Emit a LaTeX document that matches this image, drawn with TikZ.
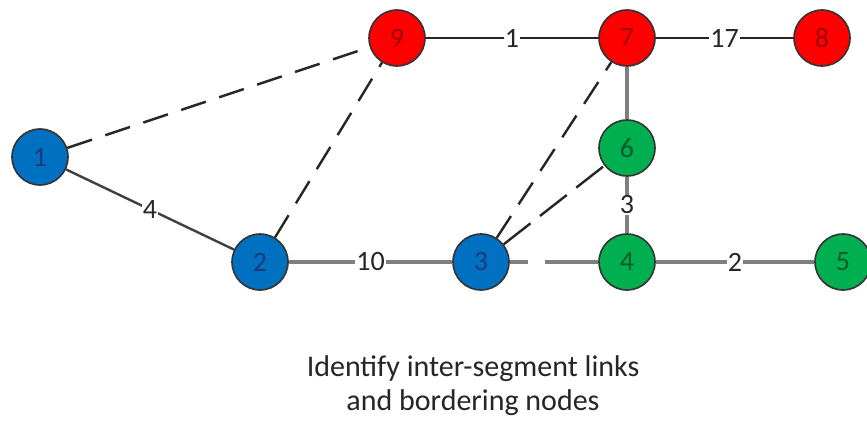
\documentclass[tikz,border=0pt]{standalone}
\usepackage{fontspec}
\setmainfont{Carlito}
\usetikzlibrary{backgrounds}
\definecolor{nblue}{HTML}{0070C0}
\definecolor{nred}{HTML}{FF0000}
\definecolor{ngreen}{HTML}{00B050}
\definecolor{tblue}{HTML}{1F3A7A}
\definecolor{tred}{HTML}{A00000}
\definecolor{tgreen}{HTML}{0B5A2A}
\definecolor{egrey}{HTML}{7F7F7F}
\begin{document}
\begin{tikzpicture}[x=1pt,y=-1pt,
  vtx/.style={circle,draw=black!80,line width=1.6pt,minimum size=56pt,inner sep=0pt,font=\fontsize{28}{28}\selectfont},
  bluev/.style={vtx,fill=nblue,text=tblue},
  redv/.style={vtx,fill=nred,text=tred},
  greenv/.style={vtx,fill=ngreen,text=tgreen},
  blk/.style={draw=black!85,line width=2.4pt},
  gry/.style={draw=egrey,line width=3.2pt},
  dsh/.style={draw=black!85,line width=2.4pt,dash pattern=on 26pt off 14pt},
  wlab/.style={fill=white,inner sep=1pt,font=\fontsize{28}{28}\selectfont,text=black!85}]
\useasboundingbox (0,0) rectangle (867,425);
\node[bluev] (n1) at (40,157) {1};
\node[bluev] (n2) at (260,262) {2};
\node[bluev] (n3) at (481,262) {3};
\node[redv] (n9) at (397,38) {9};
\node[redv] (n7) at (627,38) {7};
\node[redv] (n8) at (822,38) {8};
\node[greenv] (n6) at (627,148) {6};
\node[greenv] (n4) at (627,262) {4};
\node[greenv] (n5) at (843,262) {5};
\coordinate (g1) at (528,262);
\coordinate (g2) at (545,262);
\begin{pgfonlayer}{background}
\fill[white] (0,0) rectangle (867,425);
\path (n1) edge[dsh] (n9);
\path (n2) edge[dsh] (n9);
\path (n3) edge[dsh] (n7);
\path (n3) edge[dsh,dash pattern=on 34pt off 12pt] (n6);
\path (n1) edge[draw=black!75,line width=2.4pt] node[wlab,pos=0.5] {4} (n2);
\path (n9) edge[blk] node[wlab] {1} (n7);
\path (n7) edge[blk] node[wlab] {17} (n8);
\path (n7) edge[gry] (n6);
\path (n6) edge[gry] node[wlab] {3} (n4);
\path (n2) edge[gry] node[wlab] {10} (n3);
\path (n3) edge[gry] (g1);
\path (g2) edge[gry] (n4);
\path (n4) edge[gry] node[wlab] {2} (n5);
\end{pgfonlayer}
\node[font=\fontsize{30}{34}\selectfont,align=center,text=black!85] (cap) at (473,386) {Identify inter-segment links\\and bordering nodes};
\end{tikzpicture}
\end{document}
